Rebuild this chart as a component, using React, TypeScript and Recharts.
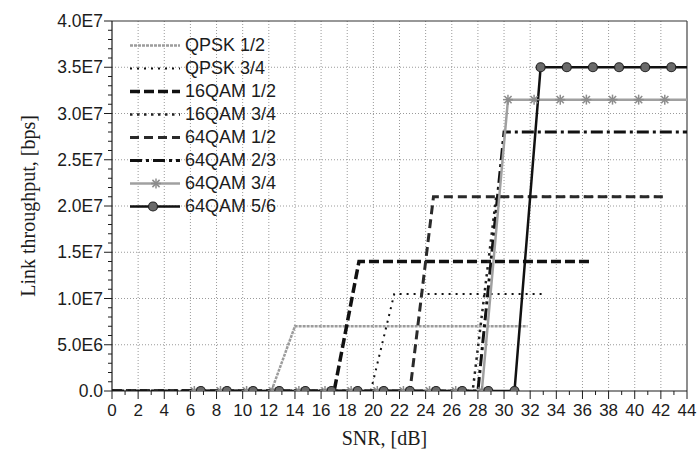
import * as React from "react"
import { LineChart, Line, XAxis, YAxis, Legend, ReferenceLine, Label } from "recharts"

// SNR [dB] vs link throughput [bps], one array of [snr, bps] per scheme
const qpsk12: [number, number][] = [[0, 0], [12.2, 0], [14, 7.0e6], [31.8, 7.0e6]]
const qpsk34: [number, number][] = [[0, 0], [19.8, 0], [21.6, 10.5e6], [33.2, 10.5e6]]
const qam16x12: [number, number][] = [[0, 0], [17, 0], [18.9, 14.0e6], [36.5, 14.0e6]]
const qam16x34: [number, number][] = [[0, 0], [27.6, 0], [29.4, 21.0e6], [42, 21.0e6]]
const qam64x12: [number, number][] = [[0, 0], [22.8, 0], [24.6, 21.0e6], [42.2, 21.0e6]]
const qam64x23: [number, number][] = [[0, 0], [28, 0], [30, 28.0e6], [44, 28.0e6]]
const qam64x34: [number, number][] = [
  [6.3, 0], [8.3, 0], [10.3, 0], [12.3, 0], [14.3, 0], [16.3, 0], [18.3, 0], [20.3, 0],
  [22.3, 0], [24.3, 0], [26.3, 0], [28.3, 0], [30.3, 31.5e6], [32.3, 31.5e6], [34.3, 31.5e6],
  [36.3, 31.5e6], [38.3, 31.5e6], [40.3, 31.5e6], [42.3, 31.5e6], [44, 31.5e6],
]
const qam64x56: [number, number][] = [
  [6.8, 0], [8.8, 0], [10.8, 0], [12.8, 0], [14.8, 0], [16.8, 0], [18.8, 0], [20.8, 0],
  [22.8, 0], [24.8, 0], [26.8, 0], [28.8, 0], [30.8, 0], [32.8, 35.0e6], [34.8, 35.0e6],
  [36.8, 35.0e6], [38.8, 35.0e6], [40.8, 35.0e6], [42.8, 35.0e6], [44, 35.0e6],
]

const seriesNames = ["QPSK 1/2", "QPSK 3/4", "16QAM 1/2", "16QAM 3/4", "64QAM 1/2", "64QAM 2/3", "64QAM 3/4", "64QAM 5/6"]
const seriesData = [qpsk12, qpsk34, qam16x12, qam16x34, qam64x12, qam64x23, qam64x34, qam64x56]

const xMajorTicks = [0, 2, 4, 6, 8, 10, 12, 14, 16, 18, 20, 22, 24, 26, 28, 30, 32, 34, 36, 38, 40, 42, 44]
const xMinorTicks = [1, 3, 5, 7, 9, 11, 13, 15, 17, 19, 21, 23, 25, 27, 29, 31, 33, 35, 37, 39, 41, 43]
const yMajorTicks = [0, 5e6, 10e6, 15e6, 20e6, 25e6, 30e6, 35e6, 40e6]
const yTickLabels = ["0.0", "5.0E6", "1.0E7", "1.5E7", "2.0E7", "2.5E7", "3.0E7", "3.5E7", "4.0E7"]
const yMinorTicks = [
  1e6, 2e6, 3e6, 4e6, 6e6, 7e6, 8e6, 9e6, 11e6, 12e6, 13e6, 14e6, 16e6, 17e6, 18e6, 19e6,
  21e6, 22e6, 23e6, 24e6, 26e6, 27e6, 28e6, 29e6, 31e6, 32e6, 33e6, 34e6, 36e6, 37e6, 38e6, 39e6,
]

const sans = "'Liberation Sans', Arial, sans-serif"
const serif = "'Liberation Serif', 'Times New Roman', serif"
const ink = "#1c1c1c"

type Style = { stroke: string; width: number; dash?: string; marker?: "star" | "circle" }
const styles: Record<string, Style> = {
  "QPSK 1/2": { stroke: "#9c9c9c", width: 2.5, dash: "3 1" },
  "QPSK 3/4": { stroke: "#111", width: 2, dash: "2 5" },
  "16QAM 1/2": { stroke: "#111", width: 3.5, dash: "10 4" },
  "16QAM 3/4": { stroke: "#222", width: 2.5, dash: "2.5 4.5" },
  "64QAM 1/2": { stroke: "#2a2a2a", width: 3, dash: "9 5" },
  "64QAM 2/3": { stroke: "#111", width: 3, dash: "12 4 3 4" },
  "64QAM 3/4": { stroke: "#a0a0a0", width: 2.5, marker: "star" },
  "64QAM 5/6": { stroke: "#111", width: 2.5, marker: "circle" },
}

const Star = ({ cx, cy }: any) => (
  <g stroke="#8c8c8c" strokeWidth={1.5}>
    <line x1={cx} y1={cy - 5} x2={cx} y2={cy + 5} />
    <line x1={cx - 5} y1={cy} x2={cx + 5} y2={cy} />
    <line x1={cx - 3.6} y1={cy - 3.6} x2={cx + 3.6} y2={cy + 3.6} />
    <line x1={cx - 3.6} y1={cy + 3.6} x2={cx + 3.6} y2={cy - 3.6} />
  </g>
)
const Ring = ({ cx, cy }: any) => <circle cx={cx} cy={cy} r={4.5} fill="#6a6a6a" stroke="#222" strokeWidth={1.2} />

const markerDot = (kind: "star" | "circle") => (props: any) => {
  const key = `${kind}-${props.index}`
  if (props.payload.snr >= 44) return <g key={key} />
  return kind === "star" ? <Star key={key} {...props} /> : <Ring key={key} {...props} />
}

const XTick = ({ x, y, payload }: any) => {
  const major = xMajorTicks.includes(payload.value)
  return (
    <g>
      <line x1={x} y1={y} x2={x} y2={y + (major ? 8 : 4)} stroke={ink} />
      {major && (
        <text x={x} y={y + 25} textAnchor="middle" fontSize={17} fontFamily={sans} fill={ink}>
          {payload.value}
        </text>
      )}
    </g>
  )
}

const YTick = ({ x, y, payload }: any) => {
  const i = yMajorTicks.indexOf(payload.value)
  return (
    <g>
      <line x1={x - (i >= 0 ? 8 : 4)} y1={y} x2={x} y2={y} stroke={ink} />
      {i >= 0 && (
        <text x={x - 9} y={y + 6} textAnchor="end" fontSize={17.5} fontFamily={sans} fill={ink}>
          {yTickLabels[i]}
        </text>
      )}
    </g>
  )
}

// legend keeps the series order of the source figure
const LegendBox = () => (
  <div>
    {seriesNames.map((name) => {
      const s = styles[name]
      return (
        <div key={name} style={{ display: "flex", alignItems: "center", height: 23 }}>
          <svg width={57} height={23}>
            <line x1={2} y1={11.5} x2={52} y2={11.5} stroke={s.stroke} strokeWidth={s.width} strokeDasharray={s.dash} />
            {s.marker === "star" && <Star cx={28} cy={11.5} />}
            {s.marker === "circle" && <Ring cx={25} cy={11.5} />}
          </svg>
          <span style={{ fontFamily: sans, fontSize: 18, color: ink, lineHeight: "23px" }}>{name}</span>
        </div>
      )
    })}
  </div>
)

export default function App() {
  return (
    <div style={{ position: "absolute", left: 0, top: 0, width: 697, height: 451, background: "#fff" }}>
      <LineChart width={697} height={451} margin={{ top: 21, right: 10, left: 0, bottom: 0 }}>
        <XAxis
          type="number"
          dataKey="snr"
          domain={[0, 44]}
          ticks={[...xMajorTicks, ...xMinorTicks]}
          interval={0}
          height={60}
          tickSize={0}
          tickMargin={0}
          tickLine={false}
          tick={<XTick />}
          axisLine={{ stroke: ink, strokeWidth: 1.2 }}
          allowDataOverflow
        >
          <Label
            content={({ viewBox }: any) => (
              <text x={viewBox.x + viewBox.width / 2 - 15} y={viewBox.y + 54} textAnchor="middle" fontSize={20} fontFamily={serif} fill={ink}>
                SNR, [dB]
              </text>
            )}
          />
        </XAxis>
        <YAxis
          type="number"
          domain={[0, 40e6]}
          ticks={[...yMajorTicks, ...yMinorTicks]}
          interval={0}
          width={112}
          tickSize={0}
          tickMargin={0}
          tickLine={false}
          tick={<YTick />}
          axisLine={{ stroke: ink, strokeWidth: 1.2 }}
          allowDataOverflow
        >
          <Label
            content={({ viewBox }: any) => {
              const cy = viewBox.y + viewBox.height / 2
              return (
                <text x={28} y={cy} transform={`rotate(-90 28 ${cy})`} textAnchor="middle" dominantBaseline="central" fontSize={20} fontFamily={serif} fill={ink}>
                  Link throughput, [bps]
                </text>
              )
            }}
          />
        </YAxis>

        {xMajorTicks.slice(1, -1).map((v) => (
          <ReferenceLine key={`gx${v}`} x={v} stroke="#9a9a9a" strokeDasharray="1 2" />
        ))}
        {yMajorTicks.slice(1, -1).map((v) => (
          <ReferenceLine key={`gy${v}`} y={v} stroke="#9a9a9a" strokeDasharray="1 2" />
        ))}
        <ReferenceLine y={40e6} stroke="#333" strokeWidth={1.2} />
        <ReferenceLine x={44} stroke="#444" strokeWidth={1.2} />

        <Legend
          layout="vertical"
          align="center"
          verticalAlign="middle"
          content={<LegendBox />}
          wrapperStyle={{ left: 128, top: 34, width: 200 }}
        />

        {seriesNames.map((name, i) => {
          const s = styles[name]
          return (
            <Line
              key={name}
              name={name}
              data={seriesData[i].map(([snr, bps]) => ({ snr, bps }))}
              dataKey="bps"
              type="linear"
              stroke={s.stroke}
              strokeWidth={s.width}
              strokeDasharray={s.dash}
              dot={s.marker ? markerDot(s.marker) : false}
              activeDot={false}
              isAnimationActive={false}
            />
          )
        })}
      </LineChart>
    </div>
  )
}
